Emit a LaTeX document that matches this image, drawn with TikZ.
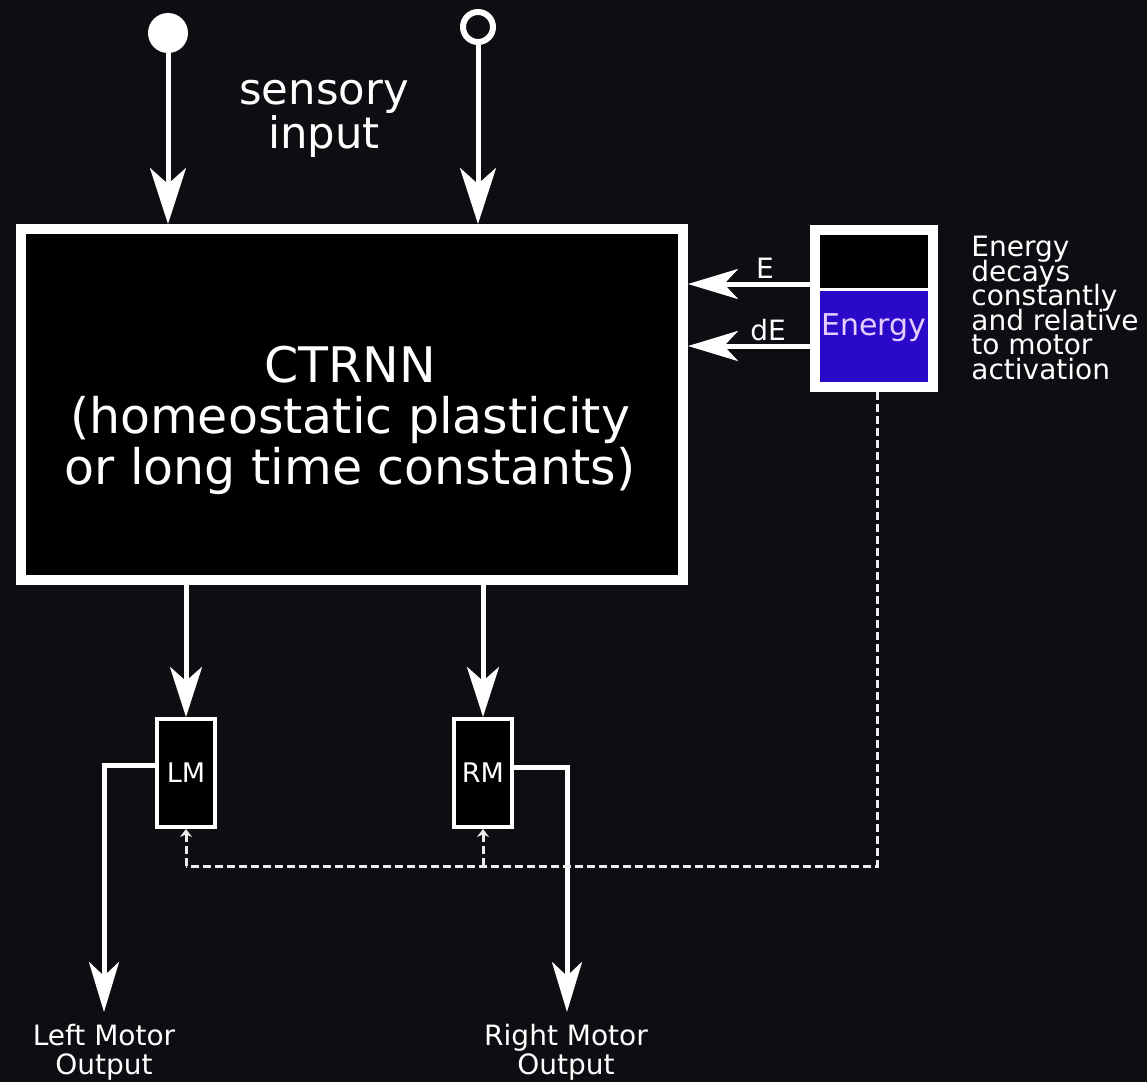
\documentclass[tikz,border=0pt]{standalone}
\usepackage{fontspec}
\setmainfont{DejaVu Sans}
\usetikzlibrary{arrows.meta}
\definecolor{bg}{RGB}{12,14,17}
\definecolor{eblue}{RGB}{42,10,200}
\definecolor{elav}{RGB}{230,205,255}
\newcommand\mytightlines{\setlength{\lineskiplimit}{-20pt}\setlength{\lineskip}{0pt}}
\tikzset{
  wline/.style={draw=white, line width=2.5pt},
  arr/.style={wline, -{Stealth[length=28pt,width=18pt,inset=8pt]}},
  oarr/.style={wline, -{Stealth[length=25pt,width=15pt,inset=7pt]}},
  marr/.style={wline, -{Stealth[length=25pt,width=16pt,inset=7pt]}},
  harr/.style={wline, -{Stealth[length=25pt,width=15pt,inset=7pt]}},
  dash line/.style={draw=white!85!gray, line width=1.5pt, dash pattern=on 4pt off 2pt},
  dash arr/.style={dash line, -{Stealth[length=4pt,width=6pt]}},
  bigbox/.style={draw=white, fill=black, line width=5pt, inner sep=0pt},
  motorbox/.style={draw=white, fill=black, line width=2pt, inner sep=0pt,
    minimum width=29pt, minimum height=54pt, text=white, font=\fontsize{13.5pt}{14pt}\selectfont},
  txt/.style={text=white, align=center, inner sep=0pt},
}
\begin{document}
\begin{tikzpicture}[x=0.5pt,y=-0.5pt]
\fill[bg] (0,0) rectangle (1147,1082);
\useasboundingbox (0,0) rectangle (1147,1082);

% main CTRNN box
\node[bigbox, minimum width=331pt, minimum height=175.5pt] (main) at (352,404.5) {};
\node[txt, font=\fontsize{24.5pt}{25.5pt}\selectfont] (ctrnn) at (350,420)
  {CTRNN\\(homeostatic plasticity\\or long time constants)};

% sensory inputs
\node[circle, fill=white, minimum size=20pt, inner sep=0pt] (in1) at (168,33) {};
\node[circle, draw=white, line width=3pt, fill=bg, minimum size=15pt, inner sep=0pt] (in2) at (478,27) {};
\draw[arr] (in1) -- (in1 |- main.north);
\draw[arr] (in2) -- (in2 |- main.north);
\node[txt, font=\fontsize{21.7pt}{22pt}\selectfont] (sens) at (324,119) {sensory\\input};

% energy box
\node[bigbox, minimum width=59pt, minimum height=78.5pt] (ebox) at (874,308.5) {};
\fill[eblue] (820,291) rectangle (928,382);
\draw[white, line width=1.5pt] (820,289.5) -- (928,289.5);
\node[text=elav, inner sep=0pt, font=\fontsize{15pt}{16pt}\selectfont] (elbl) at (874,328) {Energy};
\node[text=white, align=left, anchor=north west, inner sep=0pt,
  font=\fontsize{14pt}{12.25pt}\selectfont\mytightlines] (edesc) at (971,236)
  {Energy\\decays\\constantly\\and relative\\to motor\\activation};

% E and dE arrows
\coordinate (eS) at (810,284);
\coordinate (dS) at (810,346);
\draw[harr] (eS) -- (main.east |- eS);
\draw[harr] (dS) -- (main.east |- dS);
\node[txt, font=\fontsize{14pt}{14pt}\selectfont] (Elbl) at (765,268) {E};
\node[txt, font=\fontsize{14pt}{14pt}\selectfont] (dElbl) at (768,330) {dE};

% motor boxes
\node[motorbox] (LM) at (186,773) {LM};
\node[motorbox] (RM) at (483,773) {RM};
\draw[marr] (main.south -| LM) -- (LM.north);
\draw[marr] (main.south -| RM) -- (RM.north);

% motor outputs
\coordinate (lo) at (104,1012);
\coordinate (ro) at (567,1012);
\coordinate (lstart) at (155,765);
\coordinate (rstart) at (513,767);
\draw[oarr] (lstart) -| (lo);
\draw[oarr] (rstart) -| (ro);
\node[txt, font=\fontsize{14pt}{14.5pt}\selectfont] (lout) at (104,1052) {Left Motor\\Output};
\node[txt, font=\fontsize{14pt}{14.5pt}\selectfont] (rout) at (566,1052) {Right Motor\\Output};

% dashed energy feedback
\coordinate (dcorner) at (877,866);
\coordinate (dleft) at (186,866);
\coordinate (dmid) at (483,866);
\draw[dash line] (ebox.south -| dcorner) -- (dcorner) -- (dleft);
\draw[dash arr] (dleft) -- (LM.south);
\draw[dash arr] (dmid) -- (RM.south);
\end{tikzpicture}
\end{document}
